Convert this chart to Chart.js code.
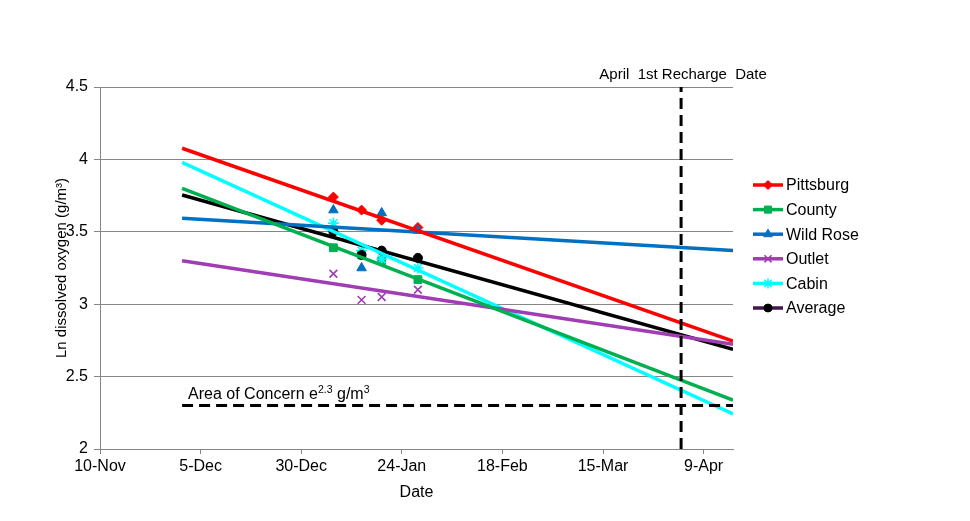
<!DOCTYPE html>
<html>
<head>
<meta charset="utf-8">
<script src="https://cdn.jsdelivr.net/npm/chart.js@4.4.1/dist/chart.umd.min.js"></script>
<style>
  html, body { margin: 0; padding: 0; background: #ffffff; }
  #wrap { width: 970px; height: 521px; position: relative; }
  canvas { display: block; }
</style>
</head>
<body>
<div id="wrap"><canvas id="c" width="970" height="521" style="width:970px;height:521px"></canvas></div>
<script>
// ---------- data (days counted from 10-Nov) ----------
const seriesNames = ['Pittsburg', 'County', 'Wild Rose', 'Outlet', 'Cabin', 'Average'];
const sampleDays = [58, 65, 70, 79];
const pittsburg = [3.74, 3.65, 3.58, 3.53];
const county    = [3.39, 3.34, 3.30, 3.17];
const wildRose  = [3.65, 3.25, 3.63, 3.51];
const outlet    = [3.21, 3.03, 3.05, 3.10];
const cabin     = [3.56, 3.37, 3.31, 3.25];
const average   = [3.50, 3.34, 3.37, 3.32];

const trendDays = [20.4, 157.3];
const pittsburgTrend = [4.077, 2.746];
const countyTrend    = [3.80, 2.338];
const wildRoseTrend  = [3.593, 3.370];
const outletTrend    = [3.30, 2.723];
const cabinTrend     = [3.98, 2.242];
const averageTrend   = [3.754, 2.689];

const xTickDays   = [0, 25, 50, 75, 100, 125, 150];
const xTickLabels = ['10-Nov', '5-Dec', '30-Dec', '24-Jan', '18-Feb', '15-Mar', '9-Apr'];
const xRange      = [0, 157.3];
const yTicks      = [2, 2.5, 3, 3.5, 4, 4.5];
const yTickLabels = ['2', '2.5', '3', '3.5', '4', '4.5'];

const concernLevel = 2.3;
const concernDays  = [20.4, 157.3];
const rechargeDay  = 144.4;
const rechargeRange = [2, 4.5];

// ---------- styling ----------
const FONT = 'Liberation Sans, Arial, sans-serif';
const colors = ['#FF0000', '#00B050', '#0070C0', '#A03CB4', '#00FFFF', '#000000'];
const legendLineColors = ['#FF0000', '#00B050', '#0070C0', '#A03CB4', '#00FFFF', '#40184F'];
const markerStyles = ['rectRot', 'rect', 'triangle', 'crossRot', 'star', 'circle'];
const markerRadius = [5, 5.5, 5.5, 5.5, 5.5, 4.5];

const seriesValues = [pittsburg, county, wildRose, outlet, cabin, average];
const trendValues = [pittsburgTrend, countyTrend, wildRoseTrend, outletTrend, cabinTrend, averageTrend];

Chart.defaults.font.family = FONT;
Chart.defaults.font.size = 16;
Chart.defaults.color = '#000000';

// dataset 0 is drawn on top
const datasets = [];
datasets.push({
  label: 'Area of Concern',
  data: concernDays.map(d => ({ x: d, y: concernLevel })),
  showLine: true, borderColor: '#000000', borderWidth: 3, borderDash: [11, 6],
  borderCapStyle: 'butt', pointRadius: 0
});
datasets.push({
  label: 'April 1st Recharge Date',
  data: rechargeRange.map(v => ({ x: rechargeDay, y: v })),
  showLine: true, borderColor: '#000000', borderWidth: 3, borderDash: [11, 6],
  borderCapStyle: 'butt', pointRadius: 0
});
seriesNames.forEach((name, i) => {
  datasets.push({
    label: name + ' trend',
    data: trendDays.map((d, j) => ({ x: d, y: trendValues[i][j] })),
    showLine: true,
    borderColor: colors[i],
    borderWidth: 3.5,
    pointRadius: 0
  });
});
// markers: later series drawn on top, as in the original
for (let i = seriesNames.length - 1; i >= 0; i--) {
  datasets.push({
    label: seriesNames[i],
    data: sampleDays.map((d, j) => ({ x: d, y: seriesValues[i][j] })),
    showLine: false,
    pointStyle: markerStyles[i],
    pointRadius: markerRadius[i],
    pointBackgroundColor: colors[i],
    pointBorderColor: colors[i],
    pointBorderWidth: (markerStyles[i] === 'crossRot' || markerStyles[i] === 'star') ? 1.6 : 1
  });
}

const annotationPlugin = {
  id: 'annot',
  afterDraw(chart) {
    const ctx = chart.ctx;
    const xs = chart.scales.x, ys = chart.scales.y;
    ctx.save();
    ctx.fillStyle = '#000';
    ctx.textBaseline = 'alphabetic';
    ctx.font = '15px ' + FONT;
    ctx.textAlign = 'center';
    ctx.fillText('April  1st Recharge  Date', xs.getPixelForValue(rechargeDay) + 2, ys.top - 8);
    ctx.textAlign = 'left';
    let x = xs.getPixelForValue(concernDays[0]) + 6;
    const base = ys.getPixelForValue(concernLevel) - 7;
    const parts = [
      ['Area of Concern e', 16, 0],
      ['2.3', 10.5, -6],
      [' g/m', 16, 0],
      ['3', 10.5, -6]
    ];
    parts.forEach(([t, s, dy]) => {
      ctx.font = s + 'px ' + FONT;
      ctx.fillText(t, x, base + dy);
      x += ctx.measureText(t).width;
    });
    ctx.restore();
  }
};

const legendPlugin = {
  id: 'customLegend',
  afterDraw(chart) {
    const ctx = chart.ctx;
    const left = chart.chartArea.right + 20;
    const top0 = 185, step = 24.6;
    ctx.save();
    seriesNames.forEach((name, i) => {
      const y = top0 + i * step;
      ctx.strokeStyle = legendLineColors[i];
      ctx.lineWidth = 3.5;
      ctx.setLineDash([]);
      ctx.beginPath();
      ctx.moveTo(left, y);
      ctx.lineTo(left + 30, y);
      ctx.stroke();
      ctx.fillStyle = colors[i];
      ctx.strokeStyle = colors[i];
      const bw = (markerStyles[i] === 'crossRot' || markerStyles[i] === 'star') ? 1.6 : 1;
      ctx.lineWidth = bw;
      if (Chart.helpers && Chart.helpers.drawPoint) {
        Chart.helpers.drawPoint(ctx, { pointStyle: markerStyles[i], radius: markerRadius[i] - 0.5, rotation: 0, borderWidth: bw }, left + 15, y);
      }
      ctx.fillStyle = '#000';
      ctx.font = '16px ' + FONT;
      ctx.textAlign = 'left';
      ctx.textBaseline = 'middle';
      ctx.fillText(name, left + 33, y + 1);
    });
    ctx.restore();
  }
};

new Chart(document.getElementById('c'), {
  type: 'scatter',
  data: { datasets },
  options: {
    responsive: false,
    animation: false,
    layout: { padding: { left: 0, right: 237, top: 87, bottom: 0 } },
    plugins: { legend: { display: false }, tooltip: { enabled: false } },
    scales: {
      x: {
        type: 'linear', min: xRange[0], max: xRange[1],
        afterBuildTicks: s => { s.ticks = xTickDays.map(v => ({ value: v })); },
        ticks: {
          callback: (v, i) => xTickLabels[i],
          autoSkip: false, maxRotation: 0, minRotation: 0, padding: 3,
          color: '#000', font: { size: 16 }
        },
        grid: { drawOnChartArea: false, drawTicks: true, tickLength: 5, color: '#868686' },
        border: { color: '#868686', width: 1 },
        title: { display: true, text: 'Date', color: '#000', font: { size: 16 }, padding: { top: 0, bottom: 19 } },
        afterFit: s => { s.height = 72; }
      },
      y: {
        min: 2, max: 4.5,
        afterBuildTicks: s => { s.ticks = yTicks.map(v => ({ value: v })); },
        ticks: { callback: (v, i) => yTickLabels[i], padding: 6, color: '#000', font: { size: 16 } },
        grid: { color: '#868686', tickLength: 6 },
        border: { color: '#868686', width: 1 },
        title: { display: true, text: 'Ln dissolved oxygen (g/m³)', color: '#000', font: { size: 15 }, padding: { top: 53, bottom: 0 } },
        afterFit: s => { s.width = 100; }
      }
    }
  },
  plugins: [annotationPlugin, legendPlugin]
});
</script>
</body>
</html>
